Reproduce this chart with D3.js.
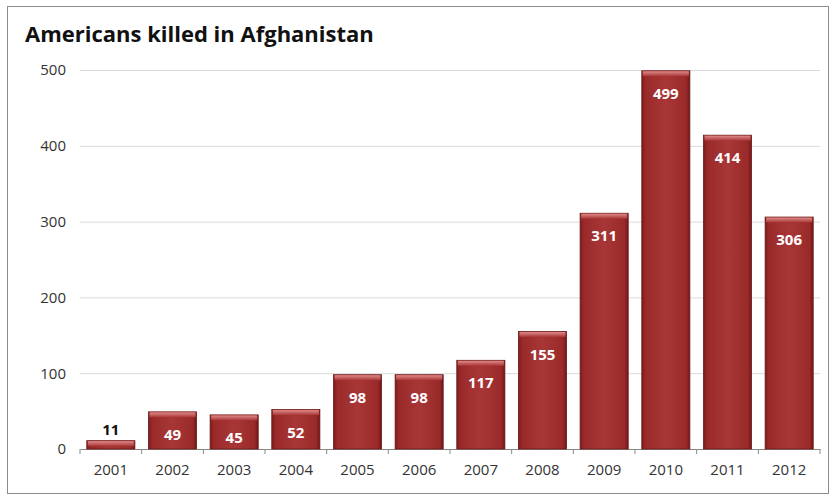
<!DOCTYPE html>
<html>
<head>
<meta charset="utf-8">
<script src="https://cdn.jsdelivr.net/npm/d3@7"></script>
<style>
	body { margin: 0; background: #fff; }
	.grid line { stroke: #d9d9d9; }
	.grid .domain { display: none; }
	.axis text { font: 15px "Open Sans", sans-serif; fill: #333; }
</style>
</head>
<body>
<svg></svg>
<script>
var years = ["2001", "2002", "2003", "2004", "2005", "2006", "2007", "2008", "2009", "2010", "2011", "2012"];
var killed = [11, 49, 45, 52, 98, 98, 117, 155, 311, 499, 414, 306];
var yTicks = [0, 100, 200, 300, 400, 500];

var margin = {top: 70, right: 15, bottom: 50, left: 80};
var width = 835 - margin.left - margin.right;
var height = 499 - margin.top - margin.bottom;

var svg = d3.select("svg").attr("width", 835).attr("height", 499);

// bar gradient
var defs = svg.append("defs");
var grad = defs.append("linearGradient").attr("id", "barGrad").attr("x1", 0).attr("x2", 1).attr("y1", 0).attr("y2", 0);
grad.append("stop").attr("offset", "0%").attr("stop-color", "#7a1c1c");
grad.append("stop").attr("offset", "8%").attr("stop-color", "#9a2a2a");
grad.append("stop").attr("offset", "50%").attr("stop-color", "#a83636");
grad.append("stop").attr("offset", "92%").attr("stop-color", "#9a2a2a");
grad.append("stop").attr("offset", "100%").attr("stop-color", "#6e1717");
var topGrad = defs.append("linearGradient").attr("id", "topGrad").attr("x1", 0).attr("x2", 0).attr("y1", 0).attr("y2", 1);
topGrad.append("stop").attr("offset", "0%").attr("stop-color", "#e08a8a");
topGrad.append("stop").attr("offset", "100%").attr("stop-color", "#a83636");

// frame
svg.append("rect").attr("x", 7.5).attr("y", 6.5).attr("width", 821).attr("height", 487)
	.attr("fill", "none").attr("stroke", "#8c8c8c");

svg.append("text").attr("x", 25).attr("y", 42)
	.style("font", "bold 22px 'Open Sans', sans-serif").attr("fill", "#111")
	.text("Americans killed in Afghanistan");

var x = d3.scaleBand().domain(years).range([0, width]).paddingInner(0.22).paddingOuter(0.11);
var y = d3.scaleLinear().domain([0, 500]).range([height, 0]);

var g = svg.append("g").attr("transform", "translate(" + margin.left + "," + margin.top + ")");

//Grid Lines
g.append("g").attr("class", "grid")
	.call(d3.axisLeft(y).tickValues(yTicks.slice(1)).tickSize(-width).tickFormat(""));

//Axis
var yAxis = g.append("g").attr("class", "axis")
	.call(d3.axisLeft(y).tickValues(yTicks).tickSize(0).tickPadding(14));
yAxis.select(".domain").remove();

var xAxis = g.append("g").attr("class", "axis").attr("transform", "translate(0," + height + ")")
	.call(d3.axisBottom(x).tickSize(0).tickPadding(15));
xAxis.select(".domain").attr("stroke", "#888");
// category boundary ticks
xAxis.selectAll(".sep").data(d3.range(years.length + 1)).enter().append("line")
	.attr("class", "sep")
	.attr("x1", function(i) { return i * x.step(); })
	.attr("x2", function(i) { return i * x.step(); })
	.attr("y1", 0).attr("y2", 5).attr("stroke", "#888");

//Bars
var bars = g.selectAll(".bar").data(killed).enter().append("g").attr("class", "bar");
bars.append("rect")
	.attr("x", function(d, i) { return x(years[i]); })
	.attr("y", function(d) { return y(d); })
	.attr("width", x.bandwidth())
	.attr("height", function(d) { return height - y(d); })
	.attr("fill", "url(#barGrad)")
	.attr("stroke", "#6e1717").attr("stroke-width", 0.8);
bars.append("rect")
	.attr("x", function(d, i) { return x(years[i]) + 1; })
	.attr("y", function(d) { return y(d) + 0.5; })
	.attr("width", x.bandwidth() - 2)
	.attr("height", function(d) { return Math.min(5, height - y(d) - 1); })
	.attr("fill", "url(#topGrad)");

bars.append("text")
	.attr("x", function(d, i) { return x(years[i]) + x.bandwidth() / 2; })
	.attr("y", function(d) { return d < 20 ? y(d) - 6 : y(d) + 28; })
	.attr("text-anchor", "middle")
	.style("font", "bold 15px 'Open Sans', sans-serif")
	.attr("fill", function(d) { return d < 20 ? "#111" : "#fff"; })
	.text(function(d) { return d; });
</script>
</body>
</html>
